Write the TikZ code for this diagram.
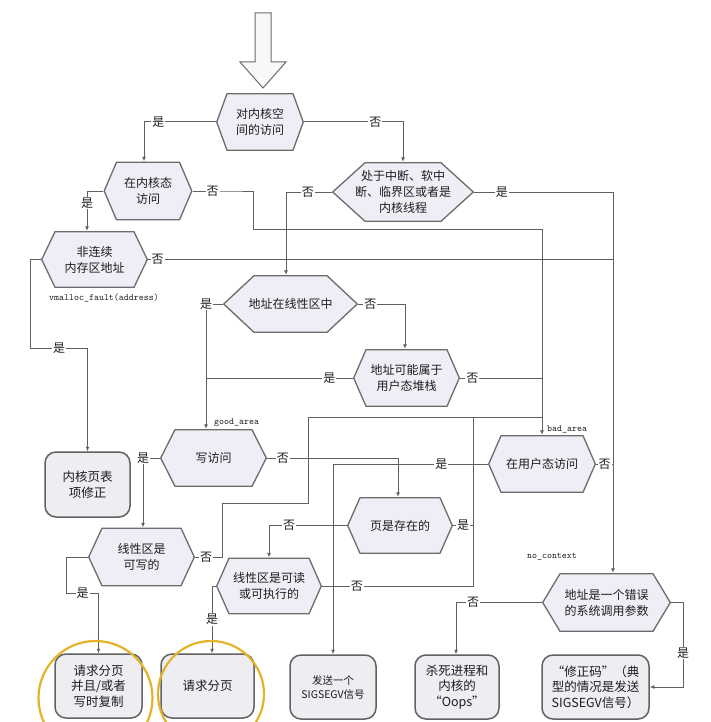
\documentclass[tikz,border=0pt]{standalone}
\usepackage{fontspec}
\newfontfamily\cjk{Noto Sans CJK SC}
\usepackage{tikz}
\usetikzlibrary{positioning,arrows.meta}
\definecolor{hexfill}{HTML}{EEEEF6}
\definecolor{hexline}{HTML}{6C6C6C}
\definecolor{boxfill}{HTML}{EDEDF2}
\definecolor{boxline}{HTML}{626262}
\definecolor{wire}{HTML}{606060}
\definecolor{ink}{HTML}{1E1E1E}
\definecolor{ringc}{HTML}{E3B32A}
\tikzset{
  hx/.style={inner sep=0pt, align=center, text=ink, font=\cjk\fontsize{12}{16}\selectfont,
    minimum width=107pt, minimum height=58pt,
    path picture={\filldraw[fill=hexfill, draw=hexline, line width=1.3pt, line join=round]
      ([xshift=.7pt]path picture bounding box.west)
      -- ([xshift=#1, yshift=-.7pt]path picture bounding box.north west)
      -- ([xshift=-#1, yshift=-.7pt]path picture bounding box.north east)
      -- ([xshift=-.7pt]path picture bounding box.east)
      -- ([xshift=-#1, yshift=.7pt]path picture bounding box.south east)
      -- ([xshift=#1, yshift=.7pt]path picture bounding box.south west) -- cycle;}},
  hx/.default=13pt,
  bx/.style={draw=boxline, fill=boxfill, line width=1.5pt, rounded corners=11pt, align=center, text=ink,
    font=\cjk\fontsize{12.5}{15.5}\selectfont, minimum width=87pt, minimum height=64pt, inner sep=2pt},
  fl/.style={-{Latex[length=4.5pt,width=4pt]}, wire, line width=1pt},
  ln/.style={wire, line width=1pt},
  lb/.style={fill=white, inner sep=1pt, text=ink, font=\cjk\fontsize{12}{12}\selectfont},
  nm/.style={text=ink, font=\ttfamily\fontsize{9.5}{10}\selectfont, inner sep=0pt},
  bigar/.style={draw=hexline, fill=hexfill!40, line width=1pt},
  ring/.style={draw=ringc, line width=2.2pt},
}
\begin{document}
\begin{tikzpicture}[x=1pt, y=-1pt]
\fill[white] (0,0) rectangle (711,722);
\useasboundingbox (0,0) rectangle (711,722);
% entry arrow
\draw[bigar] (255,13) -- (271,13) -- (271,62) -- (286,62) -- (263,88) -- (240,62) -- (255,62) -- cycle;
% decisions
\node[hx=11pt, minimum width=88pt] (acc) at (260,122) {对内核空\\间的访问};
\node[hx, minimum width=89pt, minimum height=59pt] (kmode) at (148,191) {在内核态\\访问};
\node[hx=33pt, minimum width=142pt, minimum height=60pt] (intr) at (403,192) {处于中断、软中\\断、临界区或者是\\内核线程};
\node[hx=14pt, minimum height=57pt] (vmal) at (94.5,259.5) {非连续\\内存区地址};
\node[hx=31pt, minimum width=135pt] (inreg) at (290.5,304) {地址在线性区中};
\node[hx] (stack) at (406.5,378) {地址可能属于\\用户态堆栈};
\node[hx=15pt] (wr) at (213.5,458) {写访问};
\node[hx=14pt, minimum height=59pt] (wok) at (141.5,557) {线性区是\\可写的};
\node[hx, minimum width=106pt, minimum height=57pt] (pres) at (400,525.5) {页是存在的};
\node[hx, minimum width=106pt, minimum height=57pt] (rx) at (269,586) {线性区是可读\\或可执行的};
\node[hx, minimum width=108pt] (umode) at (542,464) {在用户态访问};
\node[hx=18pt, minimum width=129pt, minimum height=59pt] (sysc) at (606.5,602.5) {地址是一个错误\\的系统调用参数};
% outcomes
\node[bx, minimum width=85pt, minimum height=65pt] (fix) at (87.5,484.5) {内核页表\\项修正};
\node[bx] (cow) at (98.5,686) {请求分页\\并且/或者\\写时复制};
\node[bx, minimum width=93pt] (dem) at (207.5,686) {请求分页};
\node[bx, minimum width=86pt, font=\cjk\fontsize{10.5}{14}\selectfont] (sig) at (333,687) {发送一个\\SIGSEGV信号};
\node[bx, minimum width=84pt] (oops) at (457,687) {杀死进程和\\内核的\\“Oops”};
\node[bx, minimum width=107pt] (fixup) at (595.5,687) {“修正码”（典\\型的情况是发送\\SIGSEGV信号）};
% code names
\node[nm] (vmname) at (104,298) {vmalloc\_fault(address)};
\node[nm, anchor=south west] (good) at (214,427) {good\_area};
\node[nm, anchor=south west] (bad) at (547,433) {bad\_area};
\node[nm] (noctx) at (552,557) {no\_context};
% flow
\draw[fl] (acc.west) -| node[lb, pos=0.4]{是} ([xshift=-4pt]kmode.north);
\draw[fl] (acc.east) -| node[lb, pos=0.36]{否} (intr.north);
\draw[fl] (kmode.west) -| node[lb, pos=0.65]{是} ([xshift=-7.5pt]vmal.north);
\draw[fl] (kmode.east) -- node[lb]{否} ++(40,0) -- ++(21,0) |- (542,229) -- (umode.north);
\draw[fl] (intr.west) -| node[lb, pos=0.26]{否} ([xshift=-4.5pt]inreg.north);
\draw[fl] (intr.east) -| node[lb, pos=0.1]{是} ([xshift=6.5pt]sysc.north);
\draw[ln] (vmal.east) -- node[lb, pos=0.02]{否} (613,259.5);
\draw[fl] (vmal.west) -- ++(-10,0) |- node[lb, pos=0.75]{是} (87.5,348) -- (fix.north);
\draw[fl] (inreg.west) -| node[lb, pos=0.5]{是} ([xshift=-7.5pt]wr.north);
\draw[fl] (inreg.east) -| node[lb, pos=0.13]{否} ([xshift=-1.5pt]stack.north);
\draw[ln] (stack.west) -- node[lb, pos=0.16]{是} (206,378);
\draw[ln] (stack.east) -- node[lb, pos=0.15]{否} (542,378);
\draw[fl] (wr.west) -| node[lb, pos=0.5]{是} ([xshift=1.5pt]wok.north);
\draw[fl] (wr.east) -| node[lb, pos=0.06]{否} ([xshift=-2pt]pres.north);
\draw[fl] (wok.west) -- ++(-21,0) -- ++(0,36) -| node[lb, pos=0.25]{是} (cow.north);
\draw[ln] (wok.east) -- node[lb, pos=0.4]{否} ++(27,0) |- (308,503) |- (542,417);
\draw[fl] (pres.west) -| node[lb, pos=0.37]{否} (rx.north);
\draw[ln] (pres.east) -- node[lb]{是} (473,525.5);
\draw[ln] (rx.east) -- node[lb, pos=0.23]{否} (473,586) |- (542,417);
\draw[fl] (rx.west) -| node[lb, pos=0.75]{是} ([xshift=4.5pt]dem.north);
\draw[fl] (umode.west) -| node[lb, pos=0.15]{是} (sig.north);
\draw[ln] (umode.east) -- node[lb]{否} (613,464);
\draw[fl] (sysc.west) -| node[lb, pos=0.4]{否} ([xshift=-1pt]oops.north);
\draw[fl] (sysc.east) -- ++(12,0) |- node[lb, pos=0.3]{是} (fixup.east);
% highlights
\draw[ring] ([shift={(-3,12)}]cow.center) circle (57pt);
\draw[ring] ([shift={(3.5,8)}]dem.center) circle (53pt);
\end{tikzpicture}
\end{document}
